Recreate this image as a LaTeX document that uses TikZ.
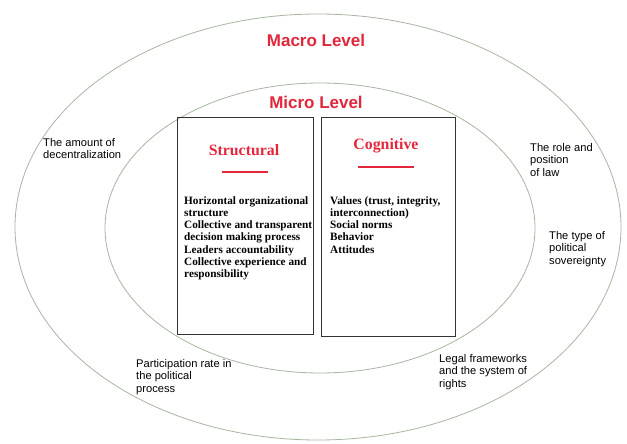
\documentclass[tikz,border=0pt]{standalone}
\usepackage{fontspec}
\setmainfont{Liberation Serif}
\setsansfont{Liberation Sans}
\usetikzlibrary{positioning}
\definecolor{ringgreen}{HTML}{A7B7A1}
\definecolor{levelred}{HTML}{E2263B}

\begin{document}
\begin{tikzpicture}[x=0.3mm,y=-0.3mm,
    ring/.style={draw=ringgreen, line width=0.7pt},
    panel/.style={draw=black!80, line width=1.2pt, inner sep=0pt, anchor=north west},
    level/.style={font=\sffamily\bfseries\fontsize{14.5}{17}\selectfont, text=levelred},
    heading/.style={font=\bfseries\fontsize{13.5}{16}\selectfont, text=levelred},
    items/.style={font=\bfseries\fontsize{9.6}{10.5}\selectfont, align=left, anchor=north west, inner sep=0pt},
    factor/.style={font=\sffamily\fontsize{9.5}{10.7}\selectfont, align=left, anchor=north west, inner sep=0pt}]
    \useasboundingbox (0,0) rectangle (627,443);

    % Levels (rings)
    \draw[ring] (318,227) ellipse [x radius=90.9mm, y radius=63.9mm];
    \draw[ring] (320,228) ellipse [x radius=64.5mm, y radius=43.5mm];
    \node[level] (macro) at (316,40) {Macro Level};
    \node[level] (micro) at (316,102) {Micro Level};

    % Panels
    \node[panel, minimum width=40.8mm, minimum height=65.1mm] (structbox) at (177,117) {};
    \node[panel, minimum width=40.2mm, minimum height=65.7mm] (cogbox) at (321,117) {};

    % Headings
    \node[heading] (structural) at (244,150) {Structural};
    \node[heading] (cognitive) at (386,146) {Cognitive};
    \draw[levelred, line width=1.3pt] (222,172) -- (268,172);
    \draw[levelred, line width=1.3pt] (358,167) -- (414,167);

    % Items
    \node[items] (structitems) at (184,196) {Horizontal organizational\\structure\\Collective and transparent\\decision making process\\Leaders accountability\\Collective experience and\\responsibility};
    \node[items] (cogitems) at (330,196) {Values (trust, integrity,\\interconnection)\\Social norms\\Behavior\\Attitudes};

    % Macro factors
    \node[factor] (decentral) at (43,138) {The amount of\\decentralization};
    \node[factor] (law) at (530,143) {The role and\\position\\of law};
    \node[factor] (sovereign) at (549,231) {The type of\\political\\sovereignty};
    \node[factor] (participation) at (136,359) {Participation rate in\\the political\\process};
    \node[factor] (legal) at (439,354) {Legal frameworks\\and the system of\\rights};
\end{tikzpicture}
\end{document}
